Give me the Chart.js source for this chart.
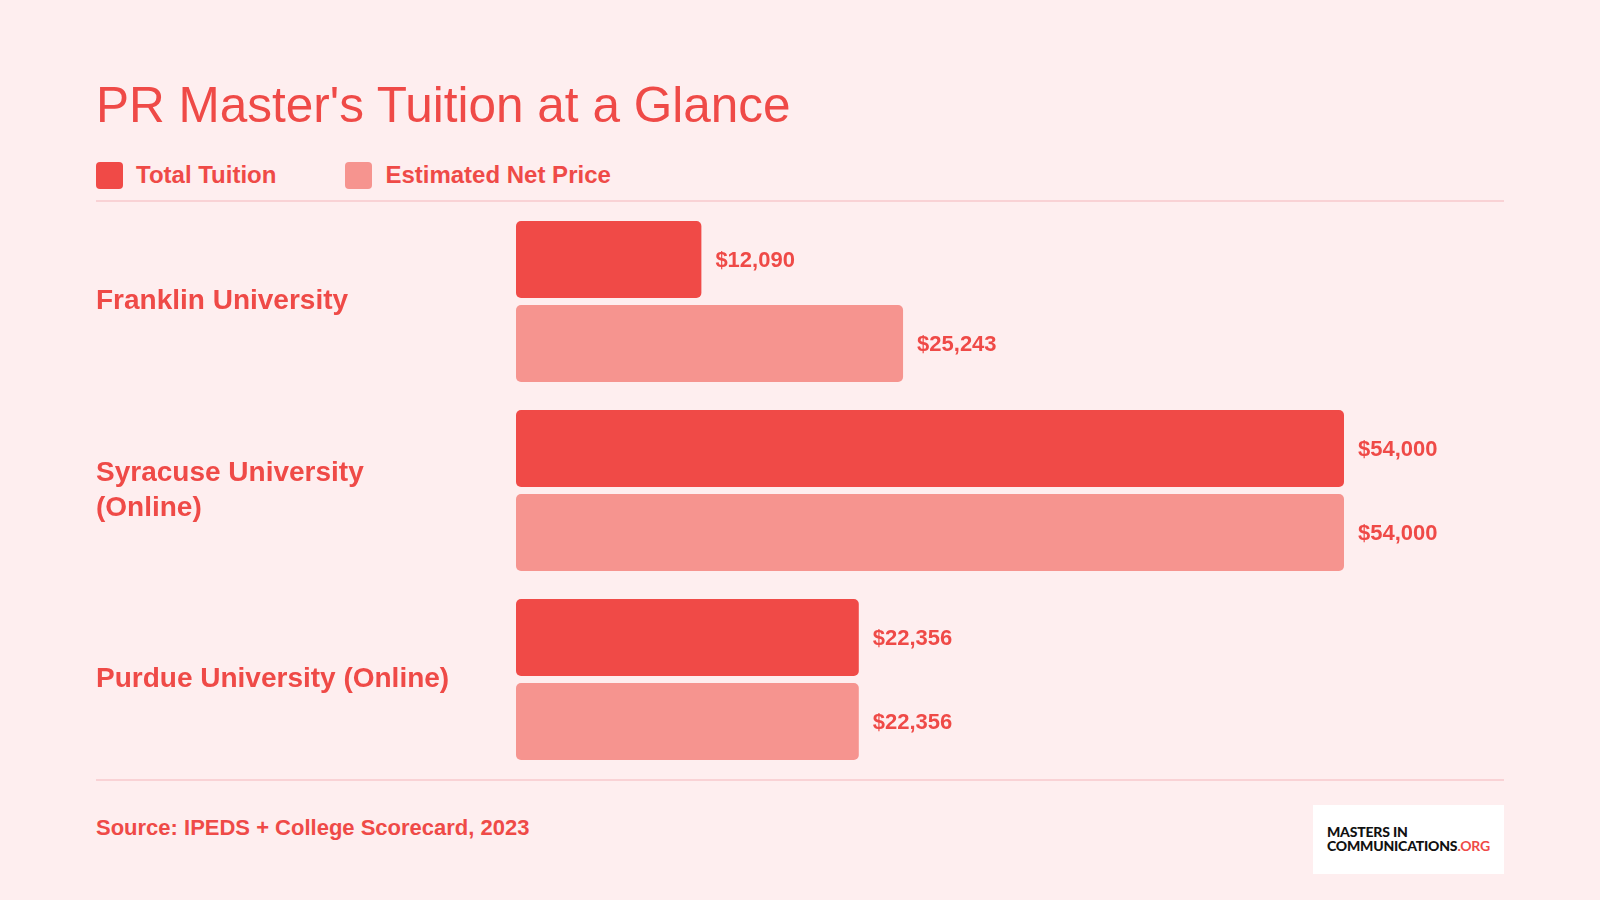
<!DOCTYPE html>
<html>
<head>
<meta charset="utf-8">
<script src="https://cdn.jsdelivr.net/npm/chart.js@4"></script>
<style>
  html, body { margin: 0; padding: 0; }
  body {
    width: 1600px; height: 900px; position: relative; overflow: hidden;
    background: #feeeef;
    font-family: "Liberation Sans", Arial, sans-serif;
    color: #ef4a47;
  }
  .title { position: absolute; left: 96px; top: 80px; font-size: 49.5px; line-height: 50px; white-space: nowrap; }
  .legend { position: absolute; left: 96px; top: 161px; height: 28px; display: flex; align-items: center; font-weight: bold; font-size: 24px; }
  .legend .sw { width: 27px; height: 27px; border-radius: 4px; margin-right: 13px; }
  .legend .item { display: flex; align-items: center; margin-right: 69px; }
  .rule { position: absolute; left: 96px; width: 1408px; height: 2px; background: #f9d2d5; }
  .source { position: absolute; left: 96px; top: 817px; font-size: 22px; line-height: 22px; font-weight: bold; white-space: nowrap; }
  .logo { position: absolute; left: 1313px; top: 805px; width: 191px; height: 69px; background: #fff; }
  .logo div { position: absolute; left: 14px; font-family: Lato, "DejaVu Sans", sans-serif; font-weight: 900; font-size: 14px; line-height: 14px; color: #111; letter-spacing: -0.2px; white-space: nowrap; }
  .logo span { color: #ef4a47; font-weight: 700; }
  #wrap { position: absolute; left: 96px; top: 207px; width: 1408px; height: 567px; }
  #chart { display: block; }
</style>
</head>
<body>
<div class="title">PR Master's Tuition at a Glance</div>
<div class="legend" id="legend"></div>
<div class="rule" style="top:200px"></div>
<div class="rule" style="top:779px"></div>
<div class="source">Source: IPEDS + College Scorecard, 2023</div>
<div class="logo">
  <div style="top:20px">MASTERS IN</div>
  <div style="top:34px">COMMUNICATIONS<span>.ORG</span></div>
</div>
<div id="wrap"><canvas id="chart" width="1408" height="567"></canvas></div>
<script>
// data
const schools = [['Franklin University'], ['Syracuse University', '(Online)'], ['Purdue University (Online)']];
const seriesNames = ['Total Tuition', 'Estimated Net Price'];
const totalTuition = [12090, 54000, 22356];
const netPrice = [25243, 54000, 22356];
const colors = ['#f04a47', '#f6948f'];
const textRed = '#ef4a47';

// html legend
const legendEl = document.getElementById('legend');
seriesNames.forEach(function (name, i) {
    const item = document.createElement('div');
    item.className = 'item';
    item.innerHTML = '<div class="sw" style="background:' + colors[i] + '"></div>' + name;
    legendEl.appendChild(item);
});

// draws "$12,090" etc. next to each bar
const valueLabels = {
    id: 'valueLabels',
    afterDatasetsDraw(chart) {
        const ctx = chart.ctx;
        ctx.save();
        ctx.font = 'bold 22px "Liberation Sans", Arial, sans-serif';
        ctx.fillStyle = textRed;
        ctx.textAlign = 'left';
        ctx.textBaseline = 'middle';
        chart.data.datasets.forEach(function (ds, di) {
            chart.getDatasetMeta(di).data.forEach(function (bar, i) {
                ctx.fillText('$' + ds.data[i].toLocaleString('en-US'), bar.x + 14, bar.y + 1);
            });
        });
        ctx.restore();
    }
};

const ctx = document.getElementById('chart').getContext('2d');
new Chart(ctx, {
    type: 'bar',
    data: {
        labels: schools,
        datasets: [
            { label: seriesNames[0], data: totalTuition, backgroundColor: colors[0] },
            { label: seriesNames[1], data: netPrice, backgroundColor: colors[1] }
        ]
    },
    options: {
        indexAxis: 'y',
        responsive: false,
        maintainAspectRatio: false,
        animation: false,
        layout: { padding: { left: 0, right: 22, top: 0, bottom: 0 } },
        categoryPercentage: 168 / 189,
        barPercentage: 77 / 84,
        borderRadius: 5,
        borderSkipped: false,
        plugins: {
            legend: { display: false },
            tooltip: { enabled: false }
        },
        scales: {
            x: { display: false, min: 0, max: 63000 },
            y: {
                grid: { display: false },
                border: { display: false },
                ticks: {
                    crossAlign: 'far',
                    padding: 0,
                    color: textRed,
                    font: { family: '"Liberation Sans", Arial, sans-serif', size: 28, weight: 'bold', lineHeight: 1.25 }
                },
                afterFit(scale) {
                    scale.width = 420;
                    // labels sit inside offset categories, no extra room needed
                    scale.paddingTop = 0;
                    scale.paddingBottom = 0;
                }
            }
        }
    },
    plugins: [valueLabels]
});
</script>
</body>
</html>
